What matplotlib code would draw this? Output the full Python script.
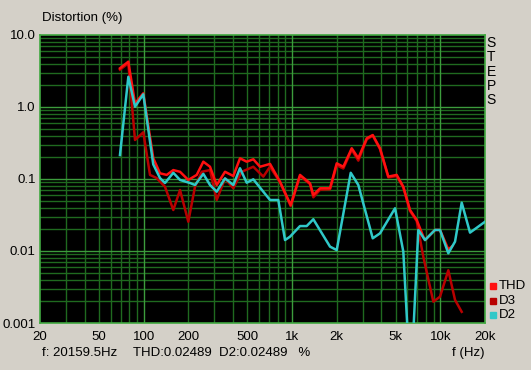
import matplotlib
matplotlib.use("Agg")
from matplotlib import pyplot as plt
import numpy as np

plt.rcParams['font.family'] = ['Liberation Sans', 'DejaVu Sans']

# D2 (cyan)
d2_f = [69.2, 78.8, 87.4, 99.4, 116, 128.8, 139.2, 158.4, 175.8, 205.3, 221.8,
        252.4, 280, 310.7, 353.5, 402.1, 446, 495, 548.4, 710.8, 808.4, 897,
        969, 1132, 1256, 1392, 1804, 2002, 2488, 2799, 3501, 3920, 4949, 5628,
        6081, 6512, 7104, 7881, 9204, 9947, 11316, 12560, 13930, 15850, 20010]
d2_v = [0.215, 2.63, 1.01, 1.50, 0.16, 0.103, 0.088, 0.122, 0.097, 0.088, 0.0825,
        0.118, 0.0825, 0.0666, 0.102, 0.0825, 0.141, 0.0888, 0.099, 0.0511, 0.0511, 0.0142,
        0.0158, 0.0222, 0.0222, 0.0276, 0.0115, 0.0103, 0.122, 0.0825, 0.0150, 0.0176, 0.0392, 0.0098,
        0.0005, 0.0005, 0.0196, 0.0142, 0.0196, 0.0196, 0.0093, 0.0135, 0.0469, 0.0180, 0.0255]

# D3 (dark red)
d3_f = [69.2, 78.8, 87.4, 99.4, 110.3, 122.4, 139.2, 158.4, 175.8, 199.9, 221.8,
        246.2, 280, 310.7, 353.5, 402.1, 458, 548.4, 640.6, 710.8, 830, 980,
        1132, 1322, 1392, 1545, 1804, 2002, 2218, 2527, 2799, 3189, 3501, 3920,
        4460, 5079, 5628, 6244, 6929, 7677, 8968, 9947, 11316, 12560, 13930]
d3_v = [3.3, 4.04, 0.348, 0.445, 0.114, 0.103, 0.0781, 0.0371, 0.0704, 0.0255, 0.0781,
        0.126, 0.133, 0.0511, 0.102, 0.0743, 0.126, 0.148, 0.108, 0.148, 0.09, 0.042,
        0.11, 0.085, 0.0557, 0.071, 0.072, 0.155, 0.14, 0.255, 0.18, 0.355, 0.40, 0.26,
        0.105, 0.11, 0.076, 0.036, 0.026, 0.0083, 0.00198, 0.00232, 0.0054, 0.00209, 0.00143]

# THD (red)
thd_f = [69.2, 78.8, 87.4, 99.4, 116.1, 128.8, 143.0, 158.4, 175.8, 199.9, 227.8,
         252.4, 280, 310.7, 353.5, 402.1, 446, 495, 548.4, 608.5, 710.8, 830, 980,
         1132, 1322, 1392, 1545, 1804, 2002, 2218, 2527, 2799, 3189, 3501, 3920,
         4460, 5079, 5628, 6244, 6929, 7677, 7881, 9204, 9947, 11316, 11930]
thd_v = [3.45, 4.26, 1.12, 1.55, 0.194, 0.120, 0.114, 0.133, 0.126, 0.097, 0.114,
         0.174, 0.148, 0.0825, 0.126, 0.110, 0.194, 0.174, 0.188, 0.148, 0.162, 0.0917, 0.0435,
         0.114, 0.0872, 0.060, 0.0743, 0.0743, 0.165, 0.148, 0.267, 0.194, 0.367, 0.408, 0.267,
         0.108, 0.114, 0.0781, 0.0371, 0.027, 0.0158, 0.0142, 0.0196, 0.0196, 0.0105, 0.0115]

x_ticks = [20, 50, 100, 200, 500, 1000, 2000, 5000, 10000, 20000]
x_labels = ['20', '50', '100', '200', '500', '1k', '2k', '5k', '10k', '20k']
y_ticks = [10, 1, 0.1, 0.01, 0.001]
y_labels = ['10.0', '1.0', '0.1', '0.01', '0.001']

bg = '#d4d0c8'
fig = plt.figure(figsize=(5.31, 3.70), dpi=100, facecolor=bg)
ax = fig.add_axes([40 / 531, 1 - 323 / 370, 445 / 531, 288 / 370])
ax.set_facecolor('black')
ax.set_xscale('log')
ax.set_yscale('log')
ax.set_xlim(20, 20000)
ax.set_ylim(0.001, 10)

# grid
minor_c = '#1f6a1f'
major_c = '#3c9c3c'
for dec in [10, 100, 1000, 10000]:
    for m in range(2, 10):
        v = dec * m
        if 20 < v < 20000:
            ax.axvline(v, color=minor_c, lw=1, zorder=1)
for v in [100, 1000, 10000]:
    ax.axvline(v, color=major_c, lw=1, zorder=1.5)
for dec in [0.001, 0.01, 0.1, 1]:
    for m in range(2, 10):
        ax.axhline(dec * m, color=minor_c, lw=1, zorder=1)
for v in [0.01, 0.1, 1]:
    ax.axhline(v, color=major_c, lw=1, zorder=1.5)

for s in ax.spines.values():
    s.set_color('#40a840')
    s.set_linewidth(1.2)

ax.plot(d3_f, d3_v, color='#b80000', lw=1.8, zorder=3)
ax.plot(thd_f, thd_v, color='#ff1010', lw=1.8, zorder=4)
ax.plot(d2_f, d2_v, color='#30c8c8', lw=1.8, zorder=5)

ax.set_xticks(x_ticks)
ax.set_xticklabels(x_labels)
ax.set_yticks(y_ticks)
ax.set_yticklabels(y_labels)
ax.minorticks_off()
ax.tick_params(length=0, labelsize=9.5, colors='black')
ax.tick_params(axis='x', pad=6)
ax.tick_params(axis='y', pad=3)

fig.text(42 / 531, 1 - 18 / 370, 'Distortion (%)', fontsize=9.5, va='center', ha='left')
fig.text(42 / 531, 1 - 353 / 370, 'f: 20159.5Hz', fontsize=9.5, va='center', ha='left')
fig.text(133 / 531, 1 - 353 / 370, 'THD:0.02489  D2:0.02489   %', fontsize=9.5, va='center', ha='left')
fig.text(485 / 531, 1 - 353 / 370, 'f (Hz)', fontsize=9.5, va='center', ha='right')

for i, ch in enumerate('STEPS'):
    fig.text(491 / 531, 1 - (43 + i * 14.3) / 370, ch, fontsize=10, va='center', ha='center')

legend_items = [('THD', '#ff1010'), ('D3', '#b80000'), ('D2', '#30c8c8')]
for i, (name, c) in enumerate(legend_items):
    y = 1 - (286 + i * 14.5) / 370
    fig.patches.append(plt.Rectangle((490 / 531, y - 3 / 370), 6 / 531, 6 / 370,
                                     transform=fig.transFigure, color=c, figure=fig))
    fig.text(499 / 531, y, name, fontsize=9.5, va='center', ha='left')

fig.savefig('out.png', dpi=100, facecolor=bg)
